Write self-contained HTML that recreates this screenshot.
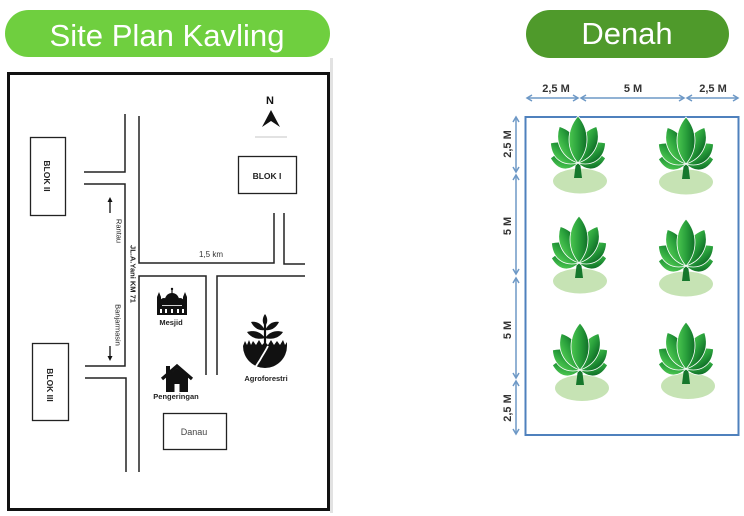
<!DOCTYPE html>
<html><head><meta charset="utf-8"><style>
html,body{margin:0;padding:0;background:#fff;}
svg{display:block;}
text{font-family:"Liberation Sans",Arial,sans-serif;}
</style></head><body>
<svg width="744" height="516" viewBox="0 0 744 516" xmlns="http://www.w3.org/2000/svg">
<defs>
  <linearGradient id="lg" x1="0" y1="0" x2="1" y2="0">
    <stop offset="0" stop-color="#4cc650"/>
    <stop offset="0.5" stop-color="#2aa13c"/>
    <stop offset="1" stop-color="#0f6e27"/>
  </linearGradient>
  <path id="lf1" d="M0,0 C11,-8 11,-19 0,-28 C-11,-19 -11,-8 0,0Z"/>
  <path id="lf2" d="M0,0 C12,-10 12,-24 0,-34 C-12,-24 -12,-10 0,0Z"/>
  <path id="lf3" d="M0,0 C12,-12 12,-29 0,-41 C-12,-29 -12,-12 0,0Z"/>
  <path id="lf4" d="M0,0 C12,-14 12,-33 0,-47 C-12,-33 -12,-14 0,0Z"/>
  <g id="tree">
    <path d="M-4,0 L4,0 L1.5,-20 L-1.5,-20Z" fill="#16782c"/>
    <g transform="translate(0,-15)" fill="url(#lg)" stroke="#fff" stroke-width="0.8">
      <use href="#lf1" transform="rotate(-80)"/>
      <use href="#lf1" transform="rotate(80)"/>
      <use href="#lf2" transform="rotate(-54)"/>
      <use href="#lf2" transform="rotate(54)"/>
      <use href="#lf3" transform="rotate(-27)"/>
      <use href="#lf3" transform="rotate(27)"/>
      <use href="#lf4"/>
    </g>
  </g>
</defs>

<!-- Title pills -->
<rect x="5" y="10" width="325" height="47" rx="23.5" fill="#6fcf3f"/>
<text x="167" y="46" font-size="31" fill="#fff" text-anchor="middle" textLength="235" lengthAdjust="spacingAndGlyphs">Site Plan Kavling</text>
<rect x="526" y="10" width="203" height="48" rx="24" fill="#4f9a2b"/>
<text x="627" y="44" font-size="31" fill="#fff" text-anchor="middle">Denah</text>

<!-- Site plan frame -->
<rect x="330" y="58" width="3" height="455" fill="#e2e2e2"/>
<rect x="8.5" y="73.5" width="320" height="436" fill="#fff" stroke="#111" stroke-width="3"/>

<!-- Roads -->
<g fill="none" stroke="#222" stroke-width="1.5">
  <polyline points="125,114 125,172 84,172"/>
  <polyline points="84,184 125,184 125,366 85,366"/>
  <polyline points="85,378 126,378 126,472"/>
  <polyline points="139,116 139,263 274,263 274,213"/>
  <polyline points="284,213 284,264 305,264"/>
  <polyline points="139,472 139,276 206,276 206,375"/>
  <polyline points="217,375 217,276 305,276"/>
</g>

<!-- North -->
<text x="270" y="104" font-size="11" font-weight="bold" text-anchor="middle" fill="#111">N</text>
<path d="M271,110 L280,127 L271,121 L262,127Z" fill="#111"/>
<line x1="255" y1="137" x2="287" y2="137" stroke="#d8d8d8" stroke-width="1.5"/>

<!-- Blocks -->
<rect x="30.5" y="137.5" width="35" height="78" fill="#fff" stroke="#222" stroke-width="1.3"/>
<text transform="translate(47,176) rotate(90)" font-size="8.5" font-weight="bold" text-anchor="middle" dy="3" fill="#222">BLOK II</text>
<rect x="238.5" y="156.5" width="58" height="37" fill="#fff" stroke="#222" stroke-width="1.3"/>
<text x="267" y="179" font-size="8.5" font-weight="bold" text-anchor="middle" fill="#222">BLOK I</text>
<rect x="32.5" y="343.5" width="36" height="77" fill="#fff" stroke="#222" stroke-width="1.3"/>
<text transform="translate(50,385) rotate(90)" font-size="8.5" font-weight="bold" text-anchor="middle" dy="3" fill="#222">BLOK III</text>
<rect x="163.5" y="413.5" width="63" height="36" fill="#fff" stroke="#222" stroke-width="1.3"/>
<text x="194" y="435" font-size="9" text-anchor="middle" fill="#444">Danau</text>

<!-- Road labels -->
<path d="M110,213 L110,200" stroke="#111" stroke-width="1.3"/>
<path d="M107.5,202 L110,197 L112.5,202Z" fill="#111"/>
<text transform="translate(119,231) rotate(90)" font-size="7.5" text-anchor="middle" dy="2.5" fill="#222">Rantau</text>
<text transform="translate(133,274) rotate(90)" font-size="7.5" font-weight="bold" text-anchor="middle" dy="2.5" fill="#222">JL.A.Yani KM 71</text>
<text transform="translate(118,325) rotate(90)" font-size="7.5" text-anchor="middle" dy="2.5" fill="#222">Banjarmasin</text>
<path d="M110,346 L110,358" stroke="#111" stroke-width="1.3"/>
<path d="M107.5,356 L110,361 L112.5,356Z" fill="#111"/>
<text x="211" y="257" font-size="8" text-anchor="middle" fill="#333">1,5 km</text>

<!-- Mosque -->
<g fill="#111">
  <rect x="157" y="303" width="30" height="12"/>
  <circle cx="172" cy="300" r="7"/>
  <rect x="171.4" y="288" width="1.2" height="6"/>
  <circle cx="172" cy="289" r="1.2"/>
  <circle cx="164" cy="302" r="4"/>
  <circle cx="180" cy="302" r="4"/>
  <rect x="157" y="297" width="4" height="18"/>
  <rect x="183" y="297" width="4" height="18"/>
  <path d="M157,297 L159,292 L161,297Z"/>
  <path d="M183,297 L185,292 L187,297Z"/>
</g>
<g fill="#fff">
  <rect x="160" y="309" width="2" height="4"/><rect x="165" y="309" width="2" height="4"/>
  <rect x="171" y="309" width="2" height="4"/><rect x="177" y="309" width="2" height="4"/>
  <rect x="182" y="309" width="2" height="4"/>
  <rect x="162" y="305" width="20" height="0.8"/>
</g>
<text x="171" y="325" font-size="7.5" font-weight="bold" text-anchor="middle" fill="#222">Mesjid</text>

<!-- House -->
<g>
  <rect x="166" y="366" width="4" height="8" fill="#111"/>
  <polyline points="162,379 177,366 192,379" fill="none" stroke="#111" stroke-width="3.2"/>
  <path d="M166,377 L177,368 L188,377 L188,392 L166,392Z" fill="#111"/>
  <rect x="174.5" y="384" width="5" height="8" fill="#fff"/>
</g>
<text x="176" y="399" font-size="7.5" font-weight="bold" text-anchor="middle" fill="#222">Pengeringan</text>

<!-- Agroforestri -->
<g>
  <path d="M243,346 A22,22 0 0,0 287,346Z" fill="#111"/>
  <path d="M243,346 L245,341 L247,345 L249,340 L251,345 L253,341 L256,345 L259,340 L262,345 L265,342 L268,345 L271,340 L274,345 L277,341 L280,345 L283,340 L285,345 L287,342 L287,346Z" fill="#111"/>
  <path d="M268,346 C265,352 262,356 260,360 C258,363 256,366 255,368" fill="none" stroke="#fff" stroke-width="1.8"/>
  <path d="M265,347 L265,320" stroke="#111" stroke-width="2.2"/>
  <path d="M265,314 C268,318 268,323 265,326 C262,323 262,318 265,314Z" fill="#111"/>
  <path d="M265,330 C261,323 256,321 251,322 C254,328 259,331 265,330Z" fill="#111"/>
  <path d="M265,330 C269,323 274,321 279,322 C276,328 271,331 265,330Z" fill="#111"/>
  <path d="M265,338 C260,331 253,330 247,332 C251,338 258,340 265,338Z" fill="#111"/>
  <path d="M265,338 C270,331 277,330 283,332 C279,338 272,340 265,338Z" fill="#111"/>
</g>
<text x="266" y="381" font-size="7.5" font-weight="bold" text-anchor="middle" fill="#222">Agroforestri</text>

<!-- Denah -->
<g fill="#333" font-size="11" font-weight="bold" text-anchor="middle">
  <text x="556" y="92">2,5 M</text>
  <text x="633" y="92">5 M</text>
  <text x="713" y="92">2,5 M</text>
  <text transform="translate(507,144) rotate(-90)" dy="4">2,5 M</text>
  <text transform="translate(507,226) rotate(-90)" dy="4">5 M</text>
  <text transform="translate(507,330) rotate(-90)" dy="4">5 M</text>
  <text transform="translate(507,408) rotate(-90)" dy="4">2,5 M</text>
</g>
<g fill="none" stroke="#6d98c6" stroke-width="1.5">
  <line x1="527" y1="98" x2="578" y2="98"/>
  <polyline points="532,95 527,98 532,101"/><polyline points="573,95 578,98 573,101"/>
  <line x1="581" y1="98" x2="684" y2="98"/>
  <polyline points="586,95 581,98 586,101"/><polyline points="679,95 684,98 679,101"/>
  <line x1="687" y1="98" x2="738" y2="98"/>
  <polyline points="692,95 687,98 692,101"/><polyline points="733,95 738,98 733,101"/>

  <line x1="516" y1="117" x2="516" y2="172"/>
  <polyline points="513,122 516,117 519,122"/><polyline points="513,167 516,172 519,167"/>
  <line x1="516" y1="175" x2="516" y2="274"/>
  <polyline points="513,180 516,175 519,180"/><polyline points="513,269 516,274 519,269"/>
  <line x1="516" y1="278" x2="516" y2="378"/>
  <polyline points="513,283 516,278 519,283"/><polyline points="513,373 516,378 519,373"/>
  <line x1="516" y1="381" x2="516" y2="434"/>
  <polyline points="513,386 516,381 519,386"/><polyline points="513,429 516,434 519,429"/>
</g>
<rect x="525.5" y="117" width="213" height="318" fill="#fff" stroke="#4f81bd" stroke-width="2"/>

<g fill="#c6e3b4">
  <ellipse cx="580" cy="181" rx="27" ry="12.5"/>
  <ellipse cx="686" cy="182" rx="27" ry="12.5"/>
  <ellipse cx="580" cy="281" rx="27" ry="12.5"/>
  <ellipse cx="686" cy="284" rx="27" ry="12.5"/>
  <ellipse cx="582" cy="388" rx="27" ry="13"/>
  <ellipse cx="688" cy="386" rx="27" ry="13"/>
</g>
<use href="#tree" transform="translate(578,178)"/>
<use href="#tree" transform="translate(686,179)"/>
<use href="#tree" transform="translate(579,278)"/>
<use href="#tree" transform="translate(686,281)"/>
<use href="#tree" transform="translate(580,385)"/>
<use href="#tree" transform="translate(686,384)"/>
</svg>
</body></html>
